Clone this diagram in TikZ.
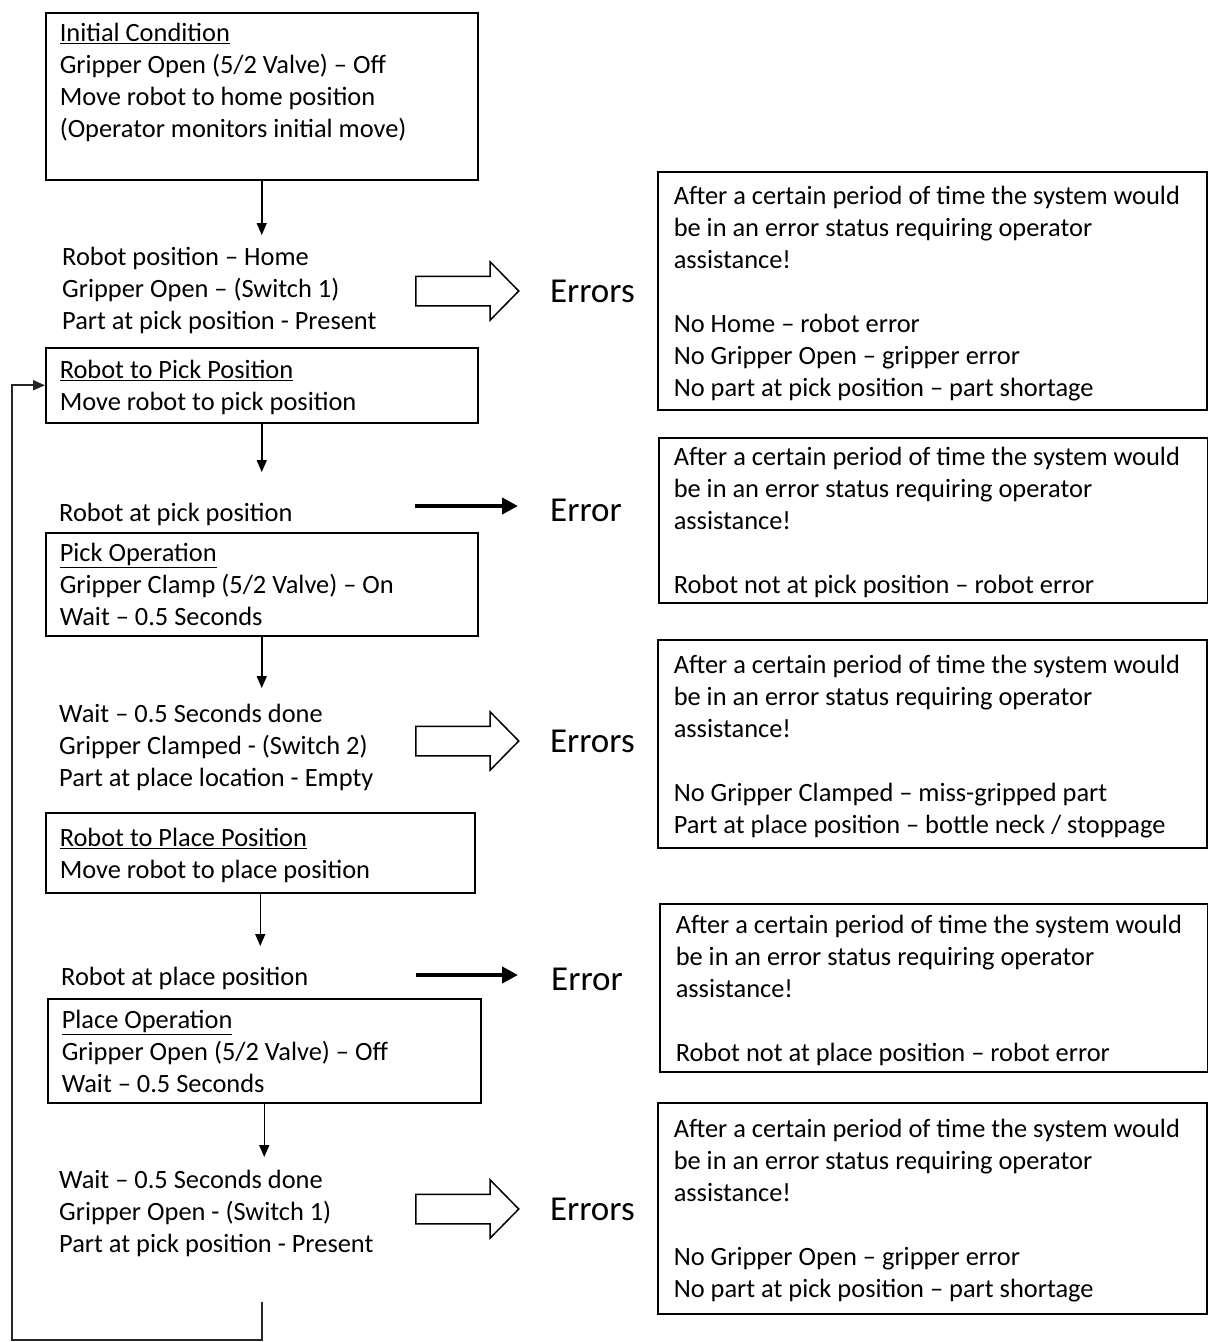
\documentclass[tikz,border=0pt]{standalone}
\usepackage{fontspec}
\setmainfont{Carlito}
\usepackage{tikz}
\usetikzlibrary{positioning,arrows.meta,shapes.arrows}

\newcommand{\stepfont}{\fontsize{26.4}{32}\selectfont}
\newcommand{\errfont}{\fontsize{35}{40}\selectfont}
\newcommand{\topstrut}{\rule{0pt}{25.4pt}}
\newcommand{\botstrut}{\rule[-6.6pt]{0pt}{6.6pt}}

\begin{document}
\begin{tikzpicture}[
  x=1pt, y=-1pt,
  stage/.style={draw, line width=1.5pt, anchor=north west, align=flush left, font=\stepfont,
    inner xsep=14pt, execute at begin node=\topstrut, execute at end node=\botstrut},
  check/.style={anchor=north west, align=left, font=\stepfont, inner sep=0pt,
    execute at begin node=\topstrut, execute at end node=\botstrut},
  errbox/.style={stage, inner xsep=16pt, text width=517pt},
  hollow/.style={single arrow, draw, line width=1.5pt, minimum height=103pt, minimum width=57pt,
    text height=14pt, text depth=14pt, single arrow head extend=14.5pt, inner sep=0pt,
    single arrow tip angle=91, anchor=tail},
  errlabel/.style={font=\errfont, inner sep=0pt, anchor=west},
  flow/.style={line width=1.5pt, -{Triangle[length=12pt,width=10pt]}},
  bold/.style={line width=4pt, -{Triangle[length=16pt,width=16pt]}},
  >=stealth
]
\useasboundingbox (0,0) rectangle (1208,1342);

% Main sequence
\node[stage, text width=404pt, inner ysep=3.5pt] (init) at (45,12)
  {\underline{Initial Condition}\\Gripper Open (5/2 Valve) -- Off\\Move robot to home position\\(Operator monitors initial move)\\ {}};
\node[check] (homechk) at (62,247)
  {Robot position -- Home\\Gripper Open -- (Switch 1)\\Part at pick position - Present};
\node[stage, text width=404pt, inner ysep=5.5pt] (topick) at (45,347)
  {\underline{Robot to Pick Position}\\Move robot to pick position};
\node[check] (pickchk) at (59,496) {Robot at pick position};
\node[stage, text width=404pt, inner ysep=3.5pt] (pickop) at (45,532)
  {\underline{Pick Operation}\\Gripper Clamp (5/2 Valve) -- On\\Wait -- 0.5 Seconds};
\node[check] (clampchk) at (59,704)
  {Wait -- 0.5 Seconds done\\Gripper Clamped - (Switch 2)\\Part at place location - Empty};
\node[stage, text width=401pt, inner ysep=8pt] (toplace) at (45,812)
  {\underline{Robot to Place Position}\\Move robot to place position};
\node[check] (placechk) at (61,960) {Robot at place position};
\node[stage, text width=405pt, inner ysep=4pt] (placeop) at (47,998)
  {\underline{Place Operation}\\Gripper Open (5/2 Valve) -- Off\\Wait -- 0.5 Seconds};
\node[check] (openchk) at (59,1170)
  {Wait -- 0.5 Seconds done\\Gripper Open - (Switch 1)\\Part at pick position - Present};

% Error arrows and labels
\node[hollow] (warn1) at (415,291) {};
\node[errlabel, right=30pt of warn1] (errs1) {Errors};
\coordinate (bold2a) at (415,506);
\coordinate (bold2b) at (518,506);
\node[errlabel, right=32pt of bold2b, yshift=-4pt] (errs2) {Error};
\node[hollow] (warn3) at (415,741) {};
\node[errlabel, right=30pt of warn3] (errs3) {Errors};
\coordinate (bold4a) at (416,975);
\coordinate (bold4b) at (518,975);
\node[errlabel, right=33pt of bold4b, yshift=-4pt] (errs4) {Error};
\node[hollow] (warn5) at (415,1209) {};
\node[errlabel, right=30pt of warn5] (errs5) {Errors};

% Error descriptions
\node[errbox, inner ysep=7pt] (desc1) at (657,171)
  {After a certain period of time the system would\\be in an error status requiring operator\\assistance!\\[32pt]No Home -- robot error\\No Gripper Open -- gripper error\\No part at pick position -- part shortage};
\node[errbox, inner xsep=15pt, text width=519pt, inner ysep=2.5pt] (desc2) at (658,437)
  {After a certain period of time the system would\\be in an error status requiring operator\\assistance!\\[32pt]Robot not at pick position -- robot error};
\node[errbox, inner ysep=8pt] (desc3) at (657,639)
  {After a certain period of time the system would\\be in an error status requiring operator\\assistance!\\[32pt]No Gripper Clamped -- miss-gripped part\\Part at place position -- bottle neck / stoppage};
\node[errbox, text width=516pt, inner ysep=4pt] (desc4) at (659,903)
  {After a certain period of time the system would\\be in an error status requiring operator\\assistance!\\[32pt]Robot not at place position -- robot error};
\node[errbox, inner ysep=9.5pt] (desc5) at (657,1102)
  {After a certain period of time the system would\\be in an error status requiring operator\\assistance!\\[32pt]No Gripper Open -- gripper error\\No part at pick position -- part shortage};

% Flow arrows
\draw[flow, shorten >=12pt] (init.south) -- (init.south |- homechk.north);
\draw[flow, shorten >=24pt] (topick.south) -- (topick.south |- pickchk.north);
\draw[flow, shorten >=16pt] (pickop.south) -- (pickop.south |- clampchk.north);
\draw[flow, shorten >=14pt] (toplace.south) -- (toplace.south |- placechk.north);
\draw[flow, shorten >=13pt] (placeop.south) -- (placeop.south |- openchk.north);
\draw[bold] (bold2a) -- (bold2b);
\draw[bold] (bold4a) -- (bold4b);

% Loop back to pick position
\coordinate (loopstart) at (262,1302);
\coordinate (loopcorner) at (12,1340);
\draw[line width=2pt, black!85, -{Triangle[length=12pt,width=10pt]}]
  (loopstart) |- (loopcorner) |- (topick.west);

\end{tikzpicture}
\end{document}
